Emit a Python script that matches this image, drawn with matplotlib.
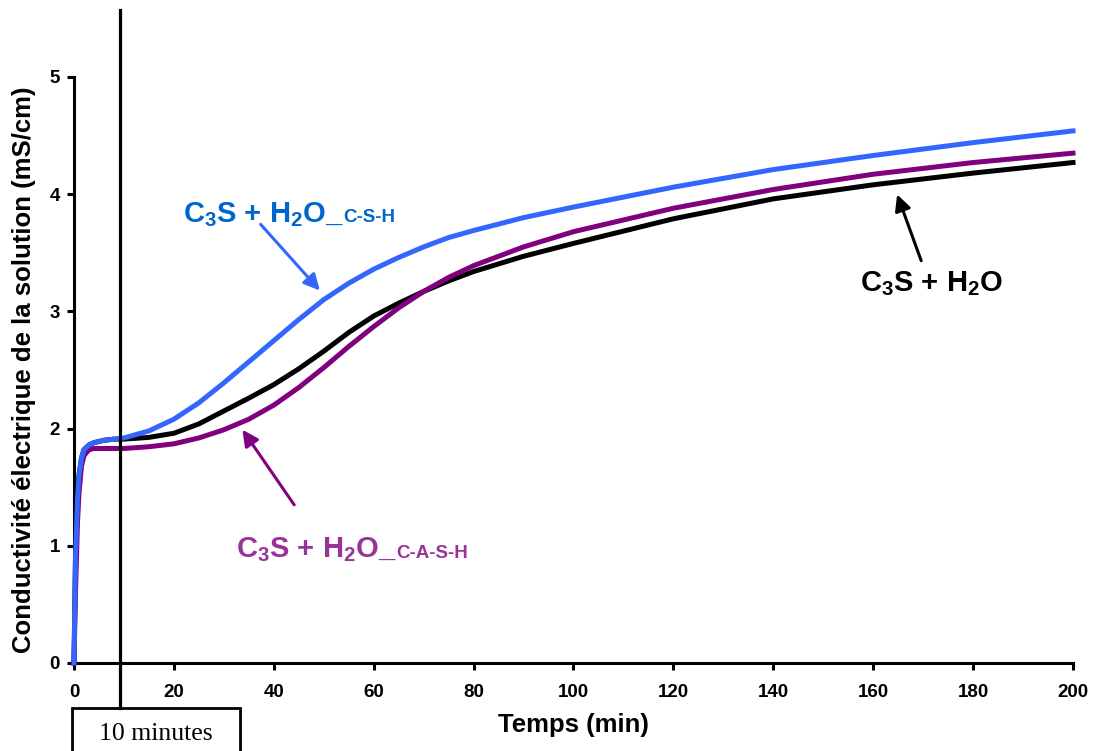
import numpy as np
import matplotlib.pyplot as plt
from matplotlib.patches import Rectangle

plt.rcParams['font.family'] = ['Liberation Sans', 'DejaVu Sans']
plt.rcParams['mathtext.fontset'] = 'custom'
plt.rcParams['mathtext.rm'] = 'Liberation Sans:bold'
plt.rcParams['mathtext.it'] = 'Liberation Sans:bold'
plt.rcParams['mathtext.bf'] = 'Liberation Sans:bold'

# temps (min)
t = [0, 0.3, 0.7, 1, 1.5, 2, 3, 4, 6, 8, 10, 15, 20, 25, 30, 35, 40, 45, 50,
     55, 60, 65, 70, 75, 80, 90, 100, 120, 140, 160, 180, 200]

# C3S + H2O_C-S-H
csh = [0, 0.9, 1.4, 1.6, 1.75, 1.82, 1.86, 1.88, 1.9, 1.91, 1.92, 1.98, 2.08,
       2.22, 2.39, 2.57, 2.75, 2.93, 3.1, 3.24, 3.36, 3.46, 3.55, 3.63, 3.69,
       3.8, 3.89, 4.06, 4.21, 4.33, 4.44, 4.54]

# C3S + H2O
ref = [0, 0.9, 1.4, 1.6, 1.75, 1.82, 1.86, 1.88, 1.9, 1.91, 1.91, 1.925, 1.96,
       2.04, 2.15, 2.26, 2.375, 2.51, 2.66, 2.82, 2.96, 3.07, 3.17, 3.26, 3.34,
       3.47, 3.58, 3.79, 3.96, 4.08, 4.18, 4.27]

# C3S + H2O_C-A-S-H
cash = [0, 0.6, 1.2, 1.45, 1.68, 1.77, 1.82, 1.83, 1.83, 1.83, 1.83, 1.845, 1.87,
        1.92, 1.99, 2.08, 2.2, 2.35, 2.52, 2.7, 2.87, 3.03, 3.17, 3.29, 3.39,
        3.55, 3.68, 3.88, 4.04, 4.17, 4.27, 4.35]

fig = plt.figure(figsize=(10.93, 7.51), dpi=100)
ax = fig.add_axes([0.0677, 0.1172, 0.914, 0.7803])

ax.plot(t, ref, color='black', lw=3.6, clip_on=False, zorder=3)
ax.plot(t, cash, color='#800080', lw=3.6, clip_on=False, zorder=4)
ax.plot(t, csh, color='#3366FF', lw=3.6, clip_on=False, zorder=5)

# ligne des 10 minutes
ax.plot([9.2, 9.2], [-0.384, 5.57], color='black', lw=2.3, clip_on=False, zorder=6)
fig.patches.append(Rectangle((72 / 1093, -0.02), 168 / 1093, 43 / 751 + 0.02,
                             transform=fig.transFigure, fill=False, lw=2, ec='black'))
fig.text(156 / 1093, 17 / 751, '10 minutes', ha='center', va='center',
         family='Liberation Serif', fontsize=18.5)

ax.set_xlim(0, 200)
ax.set_ylim(0, 5)
ax.set_xticks(np.arange(0, 201, 20))
ax.set_yticks(np.arange(0, 6, 1))
ax.spines['top'].set_visible(False)
ax.spines['right'].set_visible(False)
ax.spines['left'].set_linewidth(2.2)
ax.spines['bottom'].set_linewidth(2.2)
ax.tick_params(direction='out', length=5, width=2.2, labelsize=13.5)
ax.tick_params(axis='x', pad=10)
ax.tick_params(axis='y', pad=5)
for lab in ax.get_xticklabels() + ax.get_yticklabels():
    lab.set_fontweight('bold')

ax.set_xlabel('Temps (min)', fontsize=18.5, fontweight='bold', labelpad=9)
ax.set_ylabel('Conductivité électrique de la solution (mS/cm)', fontsize=18.5,
              fontweight='bold', labelpad=10)


def label(x, y, main, small, color):
    txt = ax.text(x, y, main, color=color, fontsize=21, fontweight='bold',
                  ha='left', va='baseline')
    if small:
        ax.annotate(small, xy=(1, y), xycoords=(txt, 'data'), color=color,
                    fontsize=13.5, fontweight='bold', ha='left', va='baseline')
    return txt


label(21.8, 3.76, r'C$_3$S + H$_2$O_', 'C-S-H', '#0066CC')
label(32.4, 0.90, r'C$_3$S + H$_2$O_', 'C-A-S-H', '#993399')
label(157.4, 3.17, r'C$_3$S + H$_2$O', None, 'black')

arrow = dict(arrowstyle='-|>', lw=2.2, mutation_scale=24)
ax.annotate('', xy=(49.6, 3.16), xytext=(37, 3.76),
            arrowprops=dict(arrow, color='#3366FF'))
ax.annotate('', xy=(33.4, 2.01), xytext=(44.4, 1.33),
            arrowprops=dict(arrow, color='#800080'))
ax.annotate('', xy=(164.6, 4.02), xytext=(169.8, 3.41),
            arrowprops=dict(arrow, color='black'))

fig.savefig('out.png', dpi=100)
